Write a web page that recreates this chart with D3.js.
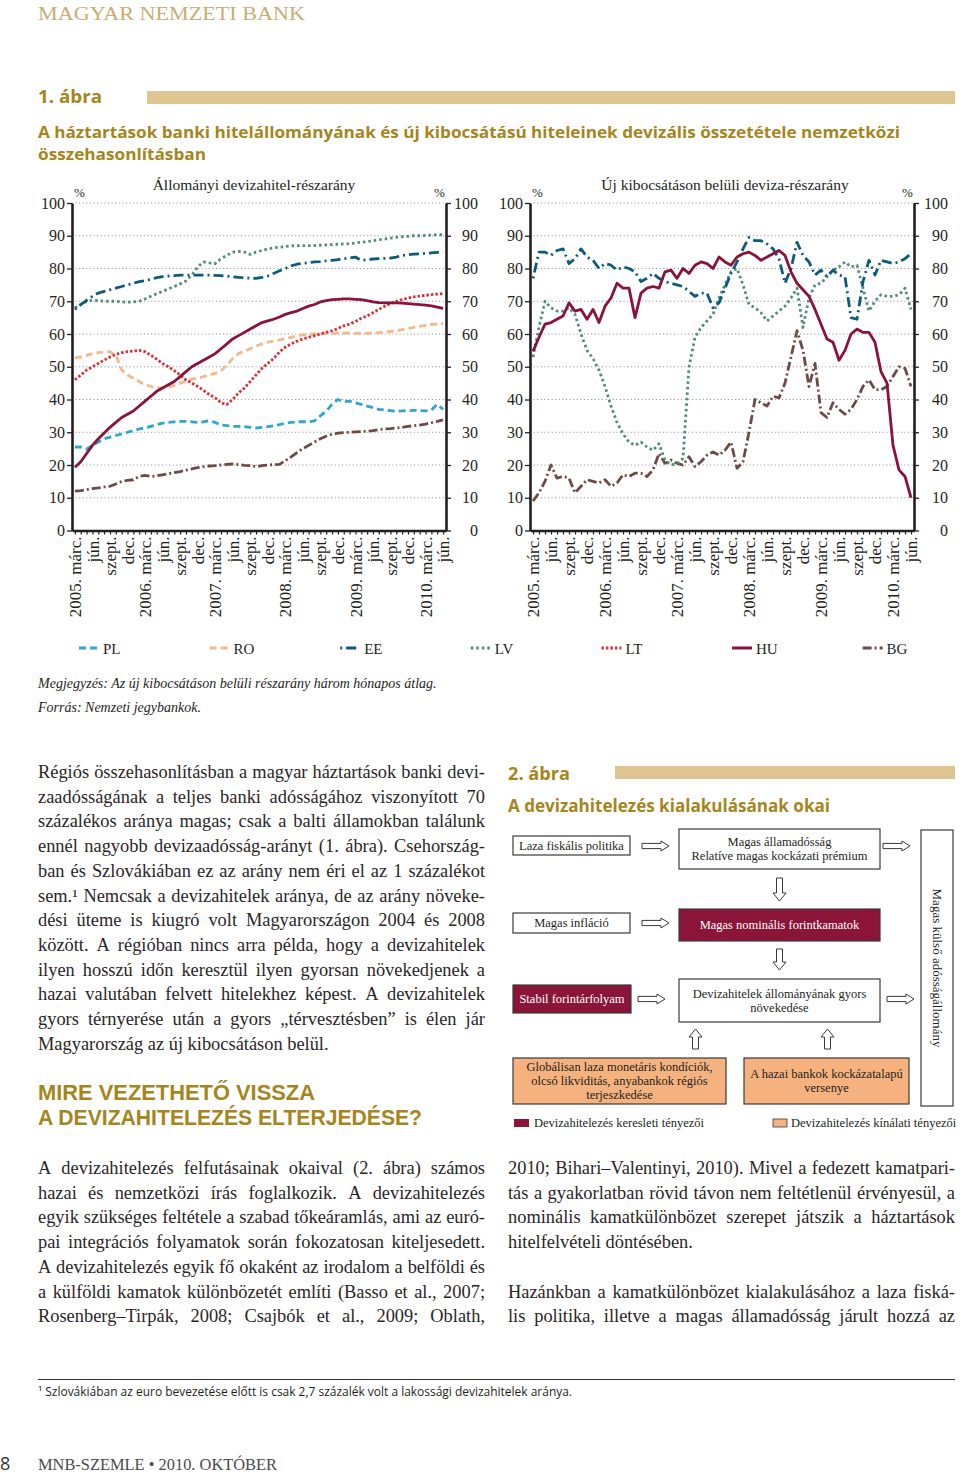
<!DOCTYPE html>
<html><head><meta charset="utf-8">
<script src="https://cdn.jsdelivr.net/npm/d3@7"></script>
<style>body{margin:0;background:#fff}svg{display:block}</style>
</head><body>
<svg id="page" width="960" height="1474"></svg>
<script>
// ---------------- DATA ----------------
// monthly observations, 2005. márc. ... 2010. jún. (64 months)
const months = d3.range(64);
const tickLabels = ["2005. márc.","jún.","szept.","dec.","2006. márc.","jún.","szept.","dec.",
  "2007. márc.","jún.","szept.","dec.","2008. márc.","jún.","szept.","dec.",
  "2009. márc.","jún.","szept.","dec.","2010. márc.","jún."];
const yTicks = [0,10,20,30,40,50,60,70,80,90,100];
const legendNames = ["PL","RO","EE","LV","LT","HU","BG"];

// Állományi devizahitel-részarány (%)
const PL = [25.5,25.5,24.8,26,27,28,28.5,29,29.5,30,30.5,31,31.3,31.8,32.3,32.8,33,33.2,33.3,33.3,33.2,33,33.2,33.5,33,32.2,32,31.8,31.8,31.7,31.5,31.3,31.5,31.7,32,32.3,32.8,33,33.2,33.2,33.2,33.5,35,36.5,38.5,40,39.3,39.5,39,38.5,38,37.5,37,36.8,36.6,36.4,36.5,36.6,36.7,36.6,36.5,36.8,38.5,37];
const RO = [52.7,53,53.5,54,54.3,54.5,54.6,53.5,49,47.5,46.5,45.5,44.5,44,43.6,43.5,43.8,44.3,45,45.6,46.2,46.5,47,47.5,48,48.8,50.5,52.5,54,54.8,55.5,56.3,57,57.5,57.8,58.2,58.6,59,59.4,59.7,59.9,60,60.1,60.2,60.2,60.3,60.3,60.3,60.2,60.2,60.2,60.3,60.4,60.6,60.8,61,61.3,61.7,62,62.3,62.6,62.9,63.1,63.2];
const EE = [67.5,69,70.3,71.5,72.5,73,73.5,74,74.5,75,75.5,76,76.3,76.7,77.2,77.5,77.7,77.8,78,78,78,78,78,78,77.9,77.8,77.7,77.5,77.3,77.2,77,77,77.3,77.7,78.5,79.3,80,80.8,81.3,81.6,81.8,82,82.1,82.3,82.5,82.7,83,83.2,83.5,82.5,82.7,82.9,83,83.1,83.2,83.5,84,84.2,84.4,84.5,84.6,84.8,84.9,85];
const LV = [68,69,70,70.3,70.2,70,70,70,69.8,69.7,69.8,70,70.7,71.5,72.3,73,73.8,74.5,75.3,76.2,78,80.5,82,81.7,81.5,83,84,85,85.2,85,84.3,85,85.5,86,86.3,86.5,86.7,86.9,87,87,87,87,87.1,87.2,87.3,87.4,87.5,87.6,87.8,88,88.2,88.5,88.8,89,89.3,89.5,89.7,89.8,90,90,90.1,90.2,90.3,90.3];
const LT = [46,47.5,49,50,51,52,53,53.8,54.3,54.6,54.8,55,54.6,53.5,52.3,51,50,48.8,47.5,46,45,44,42.8,41.5,40.5,39,38.5,40,42,43.5,45.5,47.5,49.5,51,52.5,54.5,56,57,57.8,58.5,59,59.5,60,60.5,61,61.7,62.5,63,63.8,64.8,65.5,66.5,67.5,68.5,69.3,70,70.5,71,71.3,71.6,71.8,72,72.2,72.3];
const HU = [19.3,21,23.5,26,28,29.8,31.5,33,34.5,35.5,36.5,38,39.5,41,42.5,43.5,44.5,45.5,47,48.5,50,51,52,53,54,55.5,57,58.5,59.5,60.5,61.5,62.5,63.5,64,64.5,65.2,66,66.5,67,67.8,68.5,69,69.8,70.2,70.5,70.6,70.7,70.7,70.6,70.5,70.2,69.8,69.6,69.5,69.5,69.5,69.4,69.3,69.1,69,68.8,68.6,68.2,67.8];
const BG = [12,12.2,12.5,12.8,13,13.3,13.5,14.2,15,15.3,15.5,16.5,16.8,16.5,16.7,17,17.3,17.7,18,18.4,18.8,19.2,19.5,19.7,19.8,20,20.2,20.3,20.1,19.9,19.8,19.5,19.8,20,20.1,20.2,21.3,22.5,23.8,25,26,27,28,28.8,29.4,29.7,29.9,30,30.1,30.2,30.3,30.5,30.8,31,31.1,31.3,31.5,31.8,32,32.2,32.5,32.9,33.3,33.8];

// Új kibocsátáson belüli deviza-részarány (%), háromhónapos átlag
const HU_new = [54.7,59,63,63.5,64.5,65.5,69.5,67,67.5,64.5,67.5,63.5,68.5,71,75.5,74,74,65,72.5,74,74.5,74,79,79.5,77,80,78.5,81,82,81.5,80,83.5,82,81,83.5,84.5,85,84,82.5,83.5,84.5,85.5,84,79,75.5,73.5,71.5,67.5,63,58.5,57.5,52,55,60,61.5,60.5,60.5,57.5,48.5,45,26,18.5,16.5,10];
const EE_new = [77,85,85,84,85.5,86,81.5,83,86,83.5,82.5,80,81.5,81,79.5,80.5,80,79,76,77,78.5,77,76,75.5,75,74.5,73,71.5,72.5,72.5,68,69.5,74,78.5,82,86,89.5,88.5,88.5,87.5,86,83,75.5,80,88,84,82,78,79.5,77.5,79.5,78,77.5,65,64.5,76,82.5,78,82.5,82,81.5,82,83,84.5];
const LV_new = [53,62,70,68,67,67,68,66,60,55,52.5,49,44,38,33,29.5,27,26,27,25.5,24.5,26.5,21.5,20,20.5,22,50,59,62,64,66,71,75,79,80,75,69,68,66.5,64,65.5,67,68.5,71,74,62,71,75,75.5,77.5,79.5,80.5,82,80.5,81,74,67,70,72,71.5,71.5,72,74,67.5];
const BG_new = [9,11.5,15,20,16,16.5,16,11.5,13.5,15.5,15,14.5,15.5,13.5,14.5,17,16.5,17.5,17.5,16.5,18.5,23.5,20.5,21.5,20.5,20,22.5,19.5,21,23,24,23,24.5,27,19,21,30,40,39,38,41,40.5,45,53,61,55,44,51,36,34.5,39,37,35.5,37,40,44,46,43,43,44,47,50,49.5,44];

// ---------------- STYLE ----------------
const SERIF = "'Liberation Serif', 'Times New Roman', serif";
const SANS = "'Open Sans', 'Noto Sans', sans-serif";
const LSANS = "'Liberation Sans', Arial, sans-serif";
const GOLD = "#a5851c";
const INK = "#231f20";
const sty = {
  PL:{c:"#2ea7c9",d:"7,4"}, RO:{c:"#f3b98e",d:"7,4"}, EE:{c:"#0d5a7c",d:"2,4,10,4"},
  LV:{c:"#4e8c78",d:"2.5,3"}, LT:{c:"#d6333b",d:"2.5,2"}, HU:{c:"#8b1238",d:null}, BG:{c:"#6b4b43",d:"9,3,2,3"}
};

const svg = d3.select("#page");
function txt(parent, s, x, y, o){
  o = o||{};
  const t = parent.append("text").attr("x",x).attr("y",y)
    .attr("font-family",o.font||SERIF).attr("font-size",o.size||16)
    .attr("fill",o.fill||INK).text(s);
  if(o.weight) t.attr("font-weight",o.weight);
  if(o.style) t.attr("font-style",o.style);
  if(o.anchor) t.attr("text-anchor",o.anchor);
  if(o.len) t.attr("textLength",o.len).attr("lengthAdjust","spacingAndGlyphs");
  return t;
}
function justLine(parent, s, x0, x1, y, justify, o){
  o = o||{};
  const t = parent.append("text").attr("y",y).attr("font-family",o.font||SERIF)
    .attr("font-size",o.size||18.4).attr("fill",o.fill||"#2a2627");
  if(!justify){ t.attr("x",x0).text(s); return t; }
  const words = s.split(" ");
  const spans = words.map(w => t.append("tspan").text(w));
  const widths = spans.map(sp => sp.node().getComputedTextLength());
  const gap = (x1 - x0 - d3.sum(widths)) / (words.length - 1);
  if(gap < 2){
    t.selectAll("tspan").remove();
    t.attr("x",x0).text(s).attr("textLength",x1-x0).attr("lengthAdjust","spacingAndGlyphs");
    return t;
  }
  let cx = x0;
  spans.forEach((sp,i)=>{ sp.attr("x",cx); cx += widths[i] + gap; });
  return t;
}

// ---------------- PAGE HEADER ----------------
txt(svg,"MAGYAR NEMZETI BANK",38,20,{size:19.5,fill:"#c9ad72",len:267});
txt(svg,"1. ábra",38,103,{font:SANS,size:18,weight:"bold",fill:GOLD,len:64});
svg.append("rect").attr("x",147).attr("y",91).attr("width",808).attr("height",13).attr("fill","#dfc58f");
txt(svg,"A háztartások banki hitelállományának és új kibocsátású hiteleinek devizális összetétele nemzetközi",38,138,{font:SANS,size:16.5,weight:"bold",fill:GOLD,len:862});
txt(svg,"összehasonlításban",38,160,{font:SANS,size:16.5,weight:"bold",fill:GOLD,len:168});

// ---------------- CHARTS ----------------
const Y0 = 530.5, Y100 = 203;
const y = d3.scaleLinear().domain([0,100]).range([Y0,Y100]);

function chart(cfg){
  const g = svg.append("g");
  const x = d3.scalePoint().domain(months).range([cfg.x0,cfg.x1]).padding(0.5);
  g.selectAll("line.grid").data(yTicks.filter(d=>d>0)).join("line").attr("class","grid")
    .attr("x1",cfg.x0).attr("x2",cfg.x1).attr("y1",d=>y(d)).attr("y2",d=>y(d))
    .attr("stroke","#8c8c8c").attr("stroke-width",1).attr("stroke-dasharray","1,2.6");
  const line = d3.line().x((d,i)=>x(i)).y(d=>y(d));
  cfg.series.forEach(s=>{
    g.append("path").datum(s.v).attr("d",line).attr("fill","none")
      .attr("stroke",sty[s.n].c).attr("stroke-width",2.8)
      .attr("stroke-dasharray",sty[s.n].d).attr("stroke-linejoin","round");
  });
  const styleAxis = (a, lx) => {
    a.attr("font-family",SERIF).attr("font-size",16);
    a.select(".domain").attr("stroke",INK).attr("stroke-width",2.6);
    a.selectAll(".tick line").attr("stroke",INK).attr("stroke-width",1.3);
    a.selectAll(".tick text").attr("fill",INK).attr("text-anchor","end").attr("x",lx);
  };
  const aL = g.append("g").attr("transform",`translate(${cfg.x0},0)`)
    .call(d3.axisLeft(y).tickValues(yTicks).tickSize(5).tickSizeOuter(0));
  styleAxis(aL, cfg.lx);
  const aR = g.append("g").attr("transform",`translate(${cfg.x1},0)`)
    .call(d3.axisRight(y).tickValues(yTicks).tickSize(5).tickSizeOuter(0));
  styleAxis(aR, cfg.rx);
  const aB = g.append("g").attr("transform",`translate(0,${Y0})`)
    .call(d3.axisBottom(x).tickValues(months).tickSize(4).tickSizeOuter(0).tickFormat(""));
  aB.select(".domain").attr("stroke",INK).attr("stroke-width",2.6);
  aB.selectAll(".tick line").attr("stroke",INK).attr("stroke-width",1.2);
  const aT = g.append("g").attr("transform",`translate(0,${Y0})`)
    .call(d3.axisBottom(x).tickValues(d3.range(0,64,3)).tickSize(0).tickFormat((d,i)=>tickLabels[i]));
  aT.select(".domain").remove();
  aT.attr("font-family",SERIF).attr("font-size",17);
  aT.selectAll(".tick text").attr("fill",INK).attr("transform","rotate(-90)")
    .attr("text-anchor","end").attr("x",-6).attr("y",0).attr("dy","0.33em");
  txt(g,cfg.title,cfg.tx,190,{size:15.5,anchor:"middle"});
  txt(g,"%",cfg.x0+2,197,{size:13});
  txt(g,"%",cfg.x1-12,197,{size:13});
}

chart({x0:72,x1:446,lx:-7,rx:32,tx:254,title:"Állományi devizahitel-részarány",
  series:[{n:"BG",v:BG},{n:"PL",v:PL},{n:"RO",v:RO},{n:"LT",v:LT},{n:"LV",v:LV},{n:"EE",v:EE},{n:"HU",v:HU}]});
chart({x0:530,x1:914,lx:-7,rx:34,tx:725,title:"Új kibocsátáson belüli deviza-részarány",
  series:[{n:"BG",v:BG_new},{n:"LV",v:LV_new},{n:"EE",v:EE_new},{n:"HU",v:HU_new}]});

// legend
const lg = svg.append("g");
legendNames.forEach((n,i)=>{
  const x0 = 79 + 130.6*i;
  lg.append("line").attr("x1",x0).attr("x2",x0+20).attr("y1",648).attr("y2",648)
    .attr("stroke",sty[n].c).attr("stroke-width",3).attr("stroke-dasharray",sty[n].d);
  txt(lg,n,x0+24,653.5,{size:15});
});
txt(svg,"Megjegyzés: Az új kibocsátáson belüli részarány három hónapos átlag.",38,688,{size:14,style:"italic"});
txt(svg,"Forrás: Nemzeti jegybankok.",38,712,{size:14,style:"italic"});

// ---------------- BODY TEXT ----------------
const leftBody = [
 "Régiós összehasonlításban a magyar háztartások banki devi-",
 "zaadósságának a teljes banki adósságához viszonyított 70",
 "százalékos aránya magas; csak a balti államokban találunk",
 "ennél nagyobb devizaadósság-arányt (1. ábra). Csehország-",
 "ban és Szlovákiában ez az arány nem éri el az 1 százalékot",
 "sem.¹ Nemcsak a devizahitelek aránya, de az arány növeke-",
 "dési üteme is kiugró volt Magyarországon 2004 és 2008",
 "között. A régióban nincs arra példa, hogy a devizahitelek",
 "ilyen hosszú időn keresztül ilyen gyorsan növekedjenek a",
 "hazai valutában felvett hitelekhez képest. A devizahitelek",
 "gyors térnyerése után a gyors „térvesztésben” is élen jár",
 "Magyarország az új kibocsátáson belül."];
leftBody.forEach((s,i)=> justLine(svg,s,38,485,778+24.72*i,i<leftBody.length-1));

txt(svg,"MIRE VEZETHETŐ VISSZA",38,1100,{font:LSANS,size:22,weight:"bold",fill:GOLD,len:277});
txt(svg,"A DEVIZAHITELEZÉS ELTERJEDÉSE?",38,1125,{font:LSANS,size:22,weight:"bold",fill:GOLD,len:384});

const bottomLeft = [
 "A devizahitelezés felfutásainak okaival (2. ábra) számos",
 "hazai és nemzetközi írás foglalkozik. A devizahitelezés",
 "egyik szükséges feltétele a szabad tőkeáramlás, ami az euró-",
 "pai integrációs folyamatok során fokozatosan kiteljesedett.",
 "A devizahitelezés egyik fő okaként az irodalom a belföldi és",
 "a külföldi kamatok különbözetét említi (Basso et al., 2007;",
 "Rosenberg–Tirpák, 2008; Csajbók et al., 2009; Oblath,"];
bottomLeft.forEach((s,i)=> justLine(svg,s,38,485,1174+24.7*i,true));
const bottomRight = [
 ["2010; Bihari–Valentinyi, 2010). Mivel a fedezett kamatpari-",0,true],
 ["tás a gyakorlatban rövid távon nem feltétlenül érvényesül, a",1,true],
 ["nominális kamatkülönbözet szerepet játszik a háztartások",2,true],
 ["hitelfelvételi döntésében.",3,false],
 ["Hazánkban a kamatkülönbözet kialakulásához a laza fiská-",5,true],
 ["lis politika, illetve a magas államadósság járult hozzá az",6,true]];
bottomRight.forEach(d=> justLine(svg,d[0],508,955,1174+24.7*d[1],d[2]));

// footnote + footer
svg.append("line").attr("x1",38).attr("x2",955).attr("y1",1379.5).attr("y2",1379.5).attr("stroke","#333").attr("stroke-width",1);
txt(svg,"¹ Szlovákiában az euro bevezetése előtt is csak 2,7 százalék volt a lakossági devizahitelek aránya.",38,1396,{font:SANS,size:12,len:534});
txt(svg,"8",0,1470,{font:SANS,size:18,fill:"#333"});
txt(svg,"MNB-SZEMLE • 2010. OKTÓBER",38,1470,{size:16.5,fill:"#4a4a4a",len:239});

// ---------------- FIGURE 2 (diagram) ----------------
txt(svg,"2. ábra",508,780,{font:SANS,size:18,weight:"bold",fill:GOLD,len:62});
svg.append("rect").attr("x",615).attr("y",766).attr("width",340).attr("height",13).attr("fill","#dfc58f");
txt(svg,"A devizahitelezés kialakulásának okai",508,812,{font:SANS,size:18,weight:"bold",fill:GOLD,len:322});

const MAROON = "#8a1538", PEACH = "#f5b27f";
const dg = svg.append("g");
const boxes = [
  {x:513,y:836,w:117,h:19,f:"#fff",t:["Laza fiskális politika"],c:INK},
  {x:679,y:829,w:201,h:40,f:"#fff",t:["Magas államadósság","Relatíve magas kockázati prémium"],c:INK},
  {x:513,y:913,w:117,h:20,f:"#fff",t:["Magas infláció"],c:INK},
  {x:679,y:909,w:201,h:32,f:MAROON,t:["Magas nominális forintkamatok"],c:"#fff"},
  {x:513,y:985,w:118,h:28,f:MAROON,t:["Stabil forintárfolyam"],c:"#fff"},
  {x:679,y:979,w:201,h:43,f:"#fff",t:["Devizahitelek állományának gyors","növekedése"],c:INK},
  {x:513,y:1058,w:213,h:46,f:PEACH,t:["Globálisan laza monetáris kondíciók,","olcsó likviditás, anyabankok régiós","terjeszkedése"],c:INK},
  {x:744,y:1058,w:165,h:46,f:PEACH,t:["A hazai bankok kockázatalapú","versenye"],c:INK},
  {x:921,y:830,w:32,h:276,f:"#fff",t:[],c:INK}
];
boxes.forEach(b=>{
  dg.append("rect").attr("x",b.x).attr("y",b.y).attr("width",b.w).attr("height",b.h)
    .attr("fill",b.f).attr("stroke","#3a3a3a").attr("stroke-width",1.2);
  const lh = 14, n = b.t.length;
  b.t.forEach((s,i)=>{
    txt(dg,s,b.x+b.w/2,b.y+b.h/2+(i-(n-1)/2)*lh+4.3,{size:12.5,anchor:"middle",fill:b.c});
  });
});
txt(dg,"Magas külső adósságállomány",0,0,{size:13,anchor:"middle"})
  .attr("transform","translate(933,968) rotate(90)");

function arrowPath(x,y,w,h,dir){
  if(dir==="r"){
    const hl=8, sh=2.6, cy=y+h/2;
    return `M${x},${cy-sh}L${x+w-hl},${cy-sh}L${x+w-hl},${y}L${x+w},${cy}L${x+w-hl},${y+h}L${x+w-hl},${cy+sh}L${x},${cy+sh}Z`;
  }
  const hl=8, sw=3, cx=x+w/2;
  if(dir==="d"){
    return `M${cx-sw},${y}L${cx+sw},${y}L${cx+sw},${y+h-hl}L${x+w},${y+h-hl}L${cx},${y+h}L${x},${y+h-hl}L${cx-sw},${y+h-hl}Z`;
  }
  return `M${cx-sw},${y+h}L${cx+sw},${y+h}L${cx+sw},${y+hl}L${x+w},${y+hl}L${cx},${y}L${x},${y+hl}L${cx-sw},${y+hl}Z`;
}
const arrows = [
  [642,841,27,10,"r"],[883,841,27,10,"r"],[642,918,27,10,"r"],[638,994,27,10,"r"],[887,994,27,10,"r"],
  [773,878,13,23,"d"],[773,949,13,21,"d"],[689,1029,13,20,"u"],[821,1029,13,20,"u"]];
arrows.forEach(a=> dg.append("path").attr("d",arrowPath(...a)).attr("fill","#fff").attr("stroke","#3a3a3a").attr("stroke-width",1));

dg.append("rect").attr("x",514).attr("y",1119).attr("width",15).attr("height",8).attr("fill",MAROON);
txt(dg,"Devizahitelezés keresleti tényezői",534,1127,{size:12.5});
dg.append("rect").attr("x",773).attr("y",1119).attr("width",14).attr("height",8).attr("fill",PEACH).attr("stroke","#3a3a3a").attr("stroke-width",0.8);
txt(dg,"Devizahitelezés kínálati tényezői",791,1127,{size:12.5});
</script>
</body></html>
